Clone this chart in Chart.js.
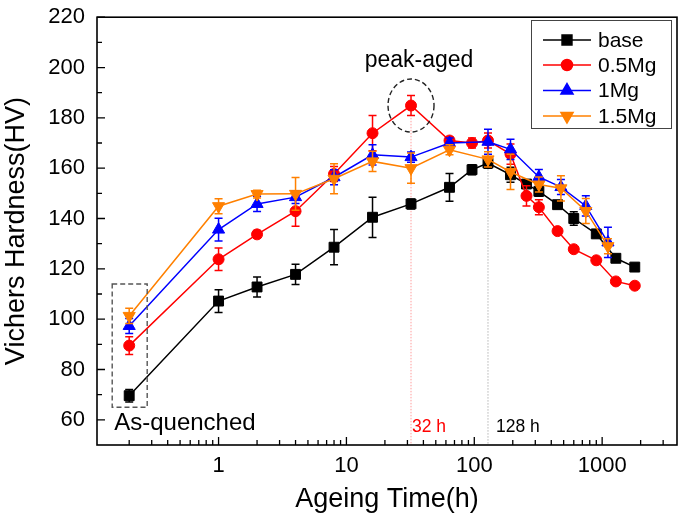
<!DOCTYPE html>
<html>
<head>
<meta charset="utf-8">
<script src="https://cdn.jsdelivr.net/npm/chart.js@4.4.1/dist/chart.umd.min.js"></script>
<style>
  html, body { margin: 0; padding: 0; background: #fff; }
  #wrap { width: 685px; height: 519px; }
</style>
</head>
<body>
<div id="wrap"><canvas id="hardnessChart" width="685" height="519"></canvas></div>
<script>
// Ageing times (h) - base and 0.5Mg share one grid, 1Mg and 1.5Mg another
const timesBase = [0.2, 1, 2, 4, 8, 16, 32, 64, 96, 128, 192, 256, 320, 448, 600, 900, 1280, 1800];
const timesMg = [0.2, 1, 2, 4, 8, 16, 32, 64, 128, 192, 320, 476, 745, 1110];

// Hardness values (HV) and error bars
const hvBase = [69.6, 107.2, 112.8, 117.8, 128.6, 140.5, 145.8, 152.4, 159.4, 162, 157.4, 153.7, 150.8, 145.5, 140, 133.9, 124.2, 120.7];
const errBase = [2.5, 4.5, 4, 4, 7, 8, 2, 5.5, 2, 2, 3, 1, 2, 1, 2.7, 1.5, 1, 1.5];
const hv05Mg = [89.5, 123.8, 133.7, 142.9, 157.7, 173.9, 184.9, 171, 170, 171, 165.6, 149, 144.5, 135, 127.8, 123.4, 115, 113.3];
const err05Mg = [3.5, 4.5, 1.5, 6, 3, 7, 4, 1.5, 2, 3, 4, 4, 3, 1, 1, 1, 1, 1];
const hv1Mg = [97.3, 135.6, 145.8, 148.5, 156.4, 165.3, 164.4, 170, 170.5, 167.5, 156.5, 152.5, 145, 130.5];
const err1Mg = [3, 4.5, 3, 2.5, 3, 4, 2, 2, 5, 4, 3, 3, 4, 6];
const hv15Mg = [101.3, 144.9, 149.7, 149.8, 155.8, 162.7, 160, 167.3, 163.5, 158.5, 153.5, 152, 143, 129];
const err15Mg = [3, 3, 1.5, 6.5, 6, 4, 6, 2, 3, 7, 3, 5, 5, 3];

const seriesNames = ['base', '0.5Mg', '1Mg', '1.5Mg'];

// Axis ticks
const xMajorTicks = [1, 10, 100, 1000];
const xMinorTicks = [0.2, 0.3, 0.4, 0.5, 0.6, 0.7, 0.8, 0.9, 2, 3, 4, 5, 6, 7, 8, 9,
  20, 30, 40, 50, 60, 70, 80, 90, 200, 300, 400, 500, 600, 700, 800, 900, 2000, 3000];
const yMajorTicks = [60, 80, 100, 120, 140, 160, 180, 200, 220];
const yMinorTicks = [70, 90, 110, 130, 150, 170, 190, 210];

const FONT = "'Liberation Sans', Arial, sans-serif";

function toPoints(xs, ys) {
  return xs.map(function (x, i) { return { x: x, y: ys[i] }; });
}

const styles = [
  { color: '#000000', pointStyle: 'rect', radius: 7, rotation: 0 },
  { color: '#ff0000', pointStyle: 'circle', radius: 5.5, rotation: 0 },
  { color: '#0000ff', pointStyle: 'triangle', radius: 7, rotation: 0 },
  { color: '#ff8000', pointStyle: 'triangle', radius: 7, rotation: 180 }
];

function makeDataset(i, xs, ys, errs) {
  const s = styles[i];
  return {
    label: seriesNames[i],
    data: toPoints(xs, ys),
    yErr: errs,
    borderColor: s.color,
    backgroundColor: s.color,
    borderWidth: 1.5,
    pointStyle: s.pointStyle,
    pointRotation: s.rotation,
    pointRadius: s.radius,
    pointHoverRadius: s.radius,
    pointBorderWidth: 1,
    pointBackgroundColor: s.color,
    pointBorderColor: s.color,
    tension: 0,
    order: 3 - i
  };
}

// Decorations: frame, inward ticks, error bars, legend, annotations
const decorPlugin = {
  id: 'decor',
  beforeDatasetsDraw(chart) {
    const ctx = chart.ctx, area = chart.chartArea;
    const x = chart.scales.x, y = chart.scales.y;
    ctx.save();
    ctx.lineWidth = 1;
    ctx.setLineDash([1.5, 1.5]);
    let px = x.getPixelForValue(32);
    ctx.strokeStyle = '#ff9c9c';
    ctx.beginPath(); ctx.moveTo(px, y.getPixelForValue(180)); ctx.lineTo(px, area.bottom); ctx.stroke();
    px = x.getPixelForValue(128);
    ctx.strokeStyle = '#b4b4b4';
    ctx.beginPath(); ctx.moveTo(px, y.getPixelForValue(162)); ctx.lineTo(px, area.bottom); ctx.stroke();
    ctx.restore();
  },
  afterDatasetDraw(chart, args) {
    const ds = chart.data.datasets[args.index];
    const y = chart.scales.y;
    const ctx = chart.ctx;
    ctx.save();
    ctx.strokeStyle = ds.borderColor;
    ctx.lineWidth = 1.5;
    args.meta.data.forEach(function (pt, j) {
      const v = ds.data[j].y, e = ds.yErr[j];
      const top = y.getPixelForValue(v + e), bot = y.getPixelForValue(v - e);
      ctx.beginPath();
      ctx.moveTo(pt.x, top); ctx.lineTo(pt.x, bot);
      ctx.moveTo(pt.x - 4, top); ctx.lineTo(pt.x + 4, top);
      ctx.moveTo(pt.x - 4, bot); ctx.lineTo(pt.x + 4, bot);
      ctx.stroke();
    });
    ctx.restore();
  },
  afterDraw(chart) {
    const ctx = chart.ctx, a = chart.chartArea;
    const x = chart.scales.x, y = chart.scales.y;
    ctx.save();

    // frame
    ctx.strokeStyle = '#000';
    ctx.lineWidth = 1.6;
    ctx.strokeRect(a.left, a.top, a.right - a.left, a.bottom - a.top);

    // inward ticks
    ctx.lineWidth = 1.3;
    ctx.beginPath();
    xMajorTicks.forEach(function (v) { const p = x.getPixelForValue(v); ctx.moveTo(p, a.bottom); ctx.lineTo(p, a.bottom - 8); });
    xMinorTicks.forEach(function (v) { const p = x.getPixelForValue(v); ctx.moveTo(p, a.bottom); ctx.lineTo(p, a.bottom - 5); });
    yMajorTicks.forEach(function (v) { const p = y.getPixelForValue(v); ctx.moveTo(a.left, p); ctx.lineTo(a.left + 8, p); });
    yMinorTicks.forEach(function (v) { const p = y.getPixelForValue(v); ctx.moveTo(a.left, p); ctx.lineTo(a.left + 5, p); });
    ctx.stroke();

    // peak-aged ellipse
    const px32 = x.getPixelForValue(32);
    const pyPeak = y.getPixelForValue(hv05Mg[6]);
    ctx.setLineDash([5, 3]);
    ctx.strokeStyle = '#222';
    ctx.lineWidth = 1.4;
    ctx.beginPath();
    ctx.ellipse(px32, pyPeak, 23, 26.5, 0, 0, Math.PI * 2);
    ctx.stroke();

    // as-quenched box
    const pxAq = x.getPixelForValue(0.2);
    ctx.strokeStyle = '#555';
    const bTop = y.getPixelForValue(114), bBot = y.getPixelForValue(65);
    ctx.strokeRect(pxAq - 17, bTop, 35, bBot - bTop);
    ctx.setLineDash([]);

    // texts
    ctx.fillStyle = '#000';
    ctx.textBaseline = 'middle';
    ctx.textAlign = 'center';
    ctx.font = '23px ' + FONT;
    ctx.fillText('peak-aged', px32 + 8, pyPeak - 45);
    ctx.textAlign = 'left';
    ctx.font = '24px ' + FONT;
    ctx.fillText('As-quenched', pxAq - 15, 423);
    ctx.font = '17.5px ' + FONT;
    ctx.fillStyle = '#ff0000';
    ctx.fillText('32 h', px32 + 1, 427);
    ctx.fillStyle = '#000';
    ctx.fillText('128 h', x.getPixelForValue(128) + 8, 427);

    // legend
    ctx.strokeStyle = '#444';
    ctx.lineWidth = 1;
    ctx.strokeRect(531.5, 20.5, 140, 108);
    const rows = [40, 65, 90.5, 116];
    ctx.font = '21px ' + FONT;
    chart.data.datasets.forEach(function (ds, i) {
      const s = styles[i], ry = rows[i];
      ctx.strokeStyle = s.color;
      ctx.fillStyle = s.color;
      ctx.lineWidth = 1.5;
      ctx.beginPath(); ctx.moveTo(543, ry); ctx.lineTo(591, ry); ctx.stroke();
      Chart.helpers.drawPoint(ctx, { pointStyle: s.pointStyle, rotation: s.rotation, radius: s.radius, borderWidth: 1 }, 567, ry);
      ctx.fillStyle = '#000';
      ctx.fillText(ds.label, 598, ry + 1);
    });
    ctx.restore();
  }
};

function initHardnessChart() {
  const canvas = document.getElementById('hardnessChart');
  new Chart(canvas, {
    type: 'line',
    data: {
      datasets: [
        makeDataset(0, timesBase, hvBase, errBase),
        makeDataset(1, timesBase, hv05Mg, err05Mg),
        makeDataset(2, timesMg, hv1Mg, err1Mg),
        makeDataset(3, timesMg, hv15Mg, err15Mg)
      ]
    },
    options: {
      responsive: false,
      animation: false,
      devicePixelRatio: 1,
      layout: { padding: { top: 15, right: 5, left: 0, bottom: 0 } },
      plugins: { legend: { display: false }, tooltip: { enabled: false } },
      scales: {
        x: {
          type: 'logarithmic',
          min: 0.112,
          max: 3850,
          grid: { display: false },
          border: { display: false },
          afterBuildTicks: function (scale) { scale.ticks = xMajorTicks.map(function (v) { return { value: v }; }); },
          afterFit: function (scale) { scale.height = 74; },
          ticks: {
            autoSkip: false, maxRotation: 0, padding: 0, color: '#000',
            font: { family: FONT, size: 22 },
            callback: function (v) { return String(v); }
          },
          title: { display: true, text: 'Ageing Time(h)', color: '#000', font: { family: FONT, size: 27 }, padding: { top: 0, bottom: 3 } }
        },
        y: {
          type: 'linear',
          min: 50,
          max: 220,
          grid: { display: false },
          border: { display: false },
          afterBuildTicks: function (scale) { scale.ticks = yMajorTicks.map(function (v) { return { value: v }; }); },
          afterFit: function (scale) { scale.width = 97; },
          ticks: {
            autoSkip: false, padding: 4, color: '#000',
            font: { family: FONT, size: 22 },
            callback: function (v) { return String(v); }
          },
          title: { display: true, text: 'Vichers Hardness(HV)', color: '#000', font: { family: FONT, size: 27 }, padding: { top: 0, bottom: 0 } }
        }
      }
    },
    plugins: [decorPlugin]
  });
}

initHardnessChart();
</script>
</body>
</html>
